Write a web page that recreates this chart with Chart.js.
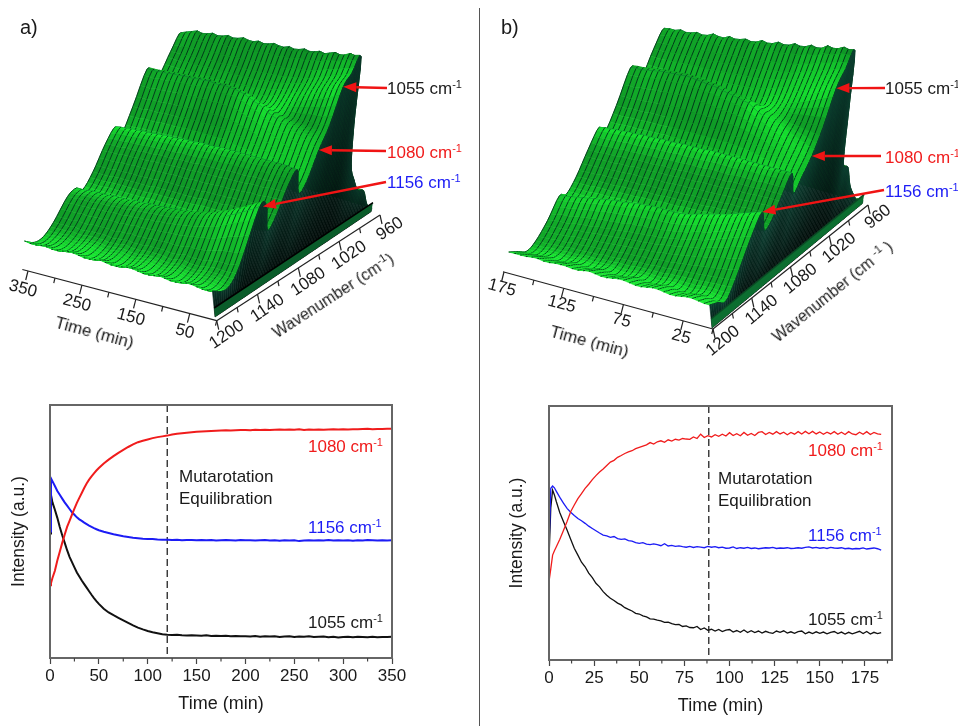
<!DOCTYPE html>
<html lang="en">
<head>
<meta charset="UTF-8" />
<title>Mutarotation</title>
<script src="https://cdn.jsdelivr.net/npm/chart.js"></script>
<style>
    html, body { margin: 0; background: #fff; }
    body { position: relative; width: 958px; height: 726px; overflow: hidden; font-family: "Liberation Sans", Arial, sans-serif; color: #1a1a1a; }
    canvas { position: absolute; }
    .t { position: absolute; font-size: 17px; line-height: 20px; white-space: nowrap; transform: translateY(-50%); }
    .t sup { font-size: 11px; line-height: 0; vertical-align: 6px; }
    #divider { position: absolute; left: 479px; top: 8px; width: 1px; height: 718px; background: #555; }
</style>
</head>
<body>
<canvas id="surfA" width="479" height="392" style="left:0;top:0"></canvas>
<canvas id="surfB" width="478" height="392" style="left:480px;top:0"></canvas>
<canvas id="lineA" width="479" height="331" style="left:0;top:395px"></canvas>
<canvas id="lineB" width="478" height="331" style="left:480px;top:395px"></canvas>
<div id="divider"></div>

<script>
// ---- kinetic traces, normalised intensity 0-100 ----
const timeA = [0,1,2.5,5,7.5,10,12.5,15,17.5,20,22.5,25,27.5,30,32.5,35,37.5,40,42.5,45,47.5,50,55,60,65,70,75,80,85,90,95,100,105,110,115,120,125,130,135,140,145,150,155,160,165,170,175,180,185,190,195,200,205,210,215,220,225,230,235,240,245,250,255,260,265,270,275,280,285,290,295,300,305,310,315,320,325,330,335,340,345,350];
const red1080A = [28.8,29.6,31.6,34.5,38.5,42,45.5,48.7,51.8,54.2,56.7,59,61.3,63.3,65.2,67.2,69,70.5,71.8,73,74.1,75.1,76.9,78.4,79.8,81.1,82.3,83.4,84.4,85.3,85.9,86.4,86.9,87.3,87.6,87.9,88.3,88.6,88.8,89,89.2,89.4,89.5,89.6,89.7,89.8,89.9,90,89.9,90,90.1,90.1,90,90.2,90.1,90.2,90.1,90.2,90.3,90.2,90.3,90.2,90.4,90.1,90.3,90.2,90.3,90.2,90.3,90.4,90.3,90.4,90.3,90.4,90.4,90.5,90.6,90.4,90.5,90.5,90.6,90.6];
const blue1156A = [50,71,69.9,68,66,64.5,63,61.5,60.2,58.9,57.6,56.6,55.6,54.8,54.2,53.5,52.9,52.3,51.8,51.3,50.9,50.5,49.9,49.4,48.9,48.5,48.1,47.8,47.5,47.3,47.1,47,47,46.8,46.7,46.7,46.6,46.7,46.5,46.6,46.6,46.5,46.6,46.5,46.6,46.4,46.5,46.6,46.5,46.4,46.6,46.5,46.5,46.4,46.5,46.6,46.4,46.5,46.3,46.5,46.4,46.5,46.2,46.4,46.5,46.4,46.5,46.4,46.6,46.4,46.5,46.4,46.5,46.3,46.5,46.4,46.6,46.5,46.4,46.5,46.4,46.5];
const black1055A = [49.2,64.4,61.5,58.6,55.4,51.8,48.5,45.6,42.6,40,37.9,35.8,33.8,32.2,30.6,29.2,27.8,26.4,25,23.7,22.5,21.4,19.5,18,16.9,15.9,14.9,13.9,12.9,12,11.3,10.7,10.2,9.8,9.4,9.2,9.1,9.2,9,8.9,9,8.9,8.8,9,8.7,8.8,8.7,8.8,8.6,8.7,8.6,8.6,8.5,8.7,8.4,8.6,8.5,8.6,8.3,8.5,8.6,8.3,8.5,8.4,8.6,8.3,8.4,8.5,8.2,8.4,8.1,8.3,8.4,8.2,8.4,8.3,8.2,8.4,8.2,8.3,8.3,8.4];

const timeB = [0,1,2,3,4,6,8,10,12,14,16,18,20,22,24,26,28,30,32,34,36,38,40,42,44,46,48,50,52,54,56,58,60,62,64,66,68,70,72,74,76,78,80,82,84,86,88,90,92,94,96,98,100,102,104,106,108,110,112,114,116,118,120,122,124,126,128,130,132,134,136,138,140,142,144,146,148,150,152,154,156,158,160,162,164,166,168,170,172,174,176,178,180,182,184];
const red1080B = [30.8,36,41.3,43,44.5,47.5,51,54.5,58.4,61,63.5,65.5,67.6,69.2,71,72.6,74,75.2,76.6,77.9,78.6,79.8,80.5,81.3,81.9,82.4,83.2,83.7,84.2,84.7,85.6,85,85.9,86.3,85.7,86.7,86.2,86.9,86.6,87.2,87,86.9,87.8,87.2,88.9,87.6,88.3,87.8,88.7,88.1,88.9,88.2,89.5,88.4,89.1,88.3,89.6,88.5,89.2,88.4,89.6,89.9,88.8,89.6,88.9,89.9,89,89.7,88.7,89.6,88.9,89.9,89,90,89.1,90,89,89.8,88.9,89.7,89,89.9,88.9,89.7,88.8,89.9,89,88.7,89.7,88.9,89.9,88.8,89.6,89,88.8];
const blue1156B = [44.6,67.6,68.5,67.8,66.5,64,61.8,59.7,58.2,56.9,55.7,54.8,53.8,52.7,51.8,50.9,50,49.2,48.9,48.3,48.6,47.8,47.5,47.7,47,46.8,46.2,45.9,46.2,45.6,45.4,45.7,45.4,45,45.8,44.9,45.1,44.7,44.9,44.6,44.4,44.7,44.3,44.6,44.4,44.2,44.7,44.4,44.6,44.2,44.4,44,44.1,44.5,43.9,44.2,44,44.3,43.9,44.1,43.8,44,44.2,44.1,44.3,43.9,44.1,44,44.2,43.9,44,44.2,44,44.3,44.5,44.1,44.3,44,44.2,43.9,44.3,44.1,44,44.2,43.8,44,43.7,43.9,43.8,44.1,43.7,43.9,44.1,43.8,43.3];
const black1055B = [40,60,66.9,65,62.5,58,54.5,51.2,47.5,44,41.3,38.5,36.7,34.2,32.4,30.2,28.8,26.9,25.5,24.3,23.4,22.4,21.7,20.6,19.9,19.3,18.4,18.1,17.4,17,16.2,16.1,15.7,15.4,14.8,14.9,14.3,13.9,14,13.2,13.4,12.8,12.7,13.2,12,12.6,11.7,12.1,11.4,12,11.2,11.8,12,11,11.6,10.9,11.8,10.8,11.5,10.8,11.4,10.6,11.3,10.8,10.5,11.4,10.9,11.5,10.6,11.1,10.5,11.2,11.4,10.3,11,10.4,11.1,10.5,11,10.3,10.9,11.2,10.4,11,10.2,10.9,10.3,10.8,11.3,10.4,11.2,10.2,10.9,10.4,10.8];

const equilibrationA = 120;
const equilibrationB = 88.5;

// ---- 3D surfaces: one row per wavenumber, one value per time slice ----
const wavenumbers = [1200,1190,1180,1170,1160,1150,1140,1130,1120,1110,1100,1090,1080,1070,1060,1050,1040,1030,1020,1010,1000,990,980,970];
const slicesA = [0,10,20,30,40,50,60,70,80,90,100,110,120,130,140,150,160,170,180,190,200,210,220,230,240,250,260,270,280,290,300,310,320,330,340,350];
const slicesB = [0,5,10,15,20,25,30,35,40,45,50,55,60,65,70,75,80,85,90,95,100,105,110,115,120,125,130,135,140,145,150,155,160,165,170,175];

const surfaceA = [
    [26,25,25,26,27,27,26,25,25,26,27,26,25,25,26,27,27,26,25,25,26,27,26,25,25,26,27,27,26,25,25,26,26,25,25,26],
    [21,20,20,21,22,22,21,20,20,21,22,21,20,20,21,22,22,21,20,20,21,22,21,20,20,21,22,22,21,20,20,21,21,20,20,20],
    [22,22,23,24,24,24,23,22,22,23,24,23,22,22,23,24,24,23,22,22,23,24,23,22,22,23,24,24,23,22,22,23,22,22,21,21],
    [38,37,36,36,36,35,34,33,33,33,34,33,32,32,33,33,33,33,32,32,32,33,32,32,31,32,32,32,32,31,31,32,31,31,31,31],
    [92,88,85,82,79,76,73,71,69,67,65,64,63,62,61,60,59,59,58,58,57,57,56,56,55,55,55,54,54,54,53,53,53,53,52,52],
    [88,86,83,81,78,76,74,72,70,68,67,66,65,64,63,62,62,61,61,60,60,60,59,59,59,58,58,58,58,57,57,57,57,56,56,56],
    [59,58,57,56,55,54,53,53,52,52,52,51,51,51,51,50,50,50,50,50,50,50,50,50,50,50,50,50,50,50,50,50,50,50,50,50],
    [70,70,69,69,68,68,68,67,67,67,66,66,66,66,66,65,65,65,65,65,65,65,65,65,64,64,64,64,64,64,64,64,63,63,63,63],
    [95,95,95,95,94,94,94,94,93,93,93,93,93,92,92,92,92,92,91,91,91,91,90,90,90,90,89,89,89,88,88,88,87,87,87,86],
    [106,106,107,107,107,107,107,107,107,107,107,107,107,107,107,107,106,106,106,106,105,105,105,104,104,104,103,103,102,102,102,101,101,100,100,99],
    [78,79,80,81,82,83,84,84,85,85,85,86,86,86,86,86,86,86,86,86,86,86,86,86,86,86,86,86,85,85,85,85,85,84,84,84],
    [85,87,89,91,93,95,97,99,101,103,105,106,108,109,110,111,112,113,113,113,113,113,113,113,113,113,112,112,112,112,111,111,111,110,110,110],
    [112,114,116,118,120,122,124,126,128,130,132,134,137,139,141,143,145,146,147,147,148,147,147,148,147,147,146,146,146,145,145,144,144,143,143,143],
    [132,131,130,130,130,130,130,130,130,130,131,131,132,132,133,133,134,134,135,135,136,135,135,136,135,135,135,134,134,134,134,133,133,133,132,132],
    [166,163,160,157,155,152,150,147,145,143,140,138,136,134,132,131,130,129,128,128,128,128,128,128,128,128,128,128,128,128,128,128,128,128,128,128],
    [175,172,170,168,166,164,162,160,158,157,156,155,154,153,153,152,152,151,151,151,150,150,150,150,149,149,149,149,148,148,148,148,147,147,147,147],
    [187,186,187,184,183,184,182,180,181,179,178,179,177,176,177,175,175,176,174,173,174,172,172,173,171,170,171,169,168,169,167,166,167,165,163,161],
    [120,120,121,121,122,122,122,123,123,123,124,124,124,124,125,125,125,125,125,125,125,125,125,125,125,125,125,125,125,125,125,124,124,124,124,124],
    [70,70,70,71,71,71,71,72,72,72,72,72,72,72,72,72,72,72,72,72,72,72,72,72,72,72,72,72,72,72,72,72,72,72,72,72],
    [50,50,50,50,50,50,50,50,50,50,50,50,50,50,50,50,50,50,50,50,50,50,50,50,50,50,50,50,50,50,50,50,50,50,50,50],
    [35,35,35,35,35,35,35,35,35,35,35,35,35,35,35,35,35,35,35,35,35,35,35,35,35,35,35,35,35,35,35,35,35,35,35,35],
    [30,30,30,30,30,30,30,30,30,30,30,30,30,30,30,30,30,30,30,30,30,30,30,30,30,30,30,30,30,30,30,30,30,30,30,30],
    [12,12,12,12,12,12,12,12,12,12,12,12,12,12,12,12,12,12,12,12,12,12,12,12,12,12,12,12,12,12,12,12,12,12,12,12],
    [4,4,4,4,4,4,4,4,4,4,4,4,4,4,4,4,4,4,4,4,4,4,4,4,4,4,4,4,4,4,4,4,4,4,4,4]
];

const surfaceB = [
    [23,23,24,25,25,24,23,23,24,25,25,24,23,23,24,25,25,24,23,23,24,25,24,23,23,24,24,24,23,23,24,24,23,23,23,23],
    [20,20,21,22,22,21,20,20,21,22,22,21,20,20,21,22,21,20,19,19,20,21,20,19,19,20,20,19,18,18,19,19,18,18,18,18],
    [16,16,17,18,18,17,16,16,17,18,18,17,16,16,17,18,17,16,15,15,16,17,16,15,15,16,16,15,14,14,15,15,14,13,13,13],
    [32,31,30,30,29,29,28,28,27,27,26,26,25,25,25,24,24,24,23,23,23,22,22,22,21,21,21,20,20,20,19,19,19,18,18,18],
    [70,68,66,64,62,60,58,56,54,53,52,50,49,48,47,46,45,45,44,44,43,43,42,41,41,40,40,39,38,38,37,36,35,35,34,33],
    [89,87,85,83,81,79,77,76,74,73,71,70,68,67,66,66,66,66,66,66,65,65,64,63,62,62,61,60,59,58,57,56,55,54,53,52],
    [65,64,63,62,61,60,59,58,57,56,55,55,54,54,53,53,53,52,52,52,51,51,51,50,50,50,50,49,49,49,49,48,48,48,48,48],
    [70,70,70,69,69,69,68,68,68,67,67,67,66,66,66,66,65,65,65,65,64,64,64,64,63,63,63,63,62,62,62,62,61,61,61,60],
    [90,90,90,90,90,89,89,89,89,89,88,88,88,88,88,87,87,87,87,86,86,86,86,85,85,85,85,84,84,84,83,83,83,82,82,82],
    [106,106,106,106,106,106,106,106,106,106,106,106,106,106,106,106,105,105,105,105,105,104,104,104,104,103,103,103,102,102,102,101,101,100,100,99],
    [80,81,82,84,85,86,87,88,88,89,89,90,90,90,90,90,90,90,90,90,90,90,90,90,90,90,90,90,89,89,89,89,89,89,88,88],
    [93,95,97,99,101,103,105,106,108,109,110,111,112,112,113,113,113,113,113,113,113,113,113,113,113,113,112,112,112,112,111,111,111,110,110,110],
    [107,109,112,114,117,119,122,125,127,130,132,134,137,140,141,142,143,144,145,146,147,147,148,148,149,149,148,148,147,147,146,145,144,143,143,142],
    [130,130,130,130,130,130,130,131,131,132,132,133,134,135,135,136,136,136,137,137,137,137,137,137,137,137,137,137,136,136,136,135,135,135,134,134],
    [164,161,158,155,152,149,146,144,141,139,136,134,131,129,128,127,126,125,125,124,124,124,123,123,123,123,122,122,122,122,122,122,122,122,122,122],
    [178,176,174,172,170,168,166,164,162,160,159,158,157,156,155,154,153,153,152,152,151,151,150,150,149,149,149,148,148,147,147,146,146,145,145,145],
    [191,190,191,188,187,188,184,183,184,181,180,181,178,177,178,175,174,175,172,171,172,170,169,170,167,167,168,165,164,165,163,162,163,161,161,160],
    [130,130,130,130,130,130,130,130,130,130,130,130,130,130,130,130,130,130,129,129,129,129,129,129,129,129,129,129,129,129,128,128,128,128,128,128],
    [68,68,68,68,68,68,68,68,68,68,68,68,68,68,68,68,68,68,68,68,68,68,68,68,68,68,68,68,68,68,68,68,68,68,68,68],
    [58,58,58,58,58,58,58,58,58,58,58,58,58,58,58,58,58,58,58,58,58,58,58,58,58,58,58,58,58,58,58,58,58,58,58,58],
    [35,35,35,35,35,35,35,35,35,35,35,35,35,35,35,35,35,35,35,35,35,35,35,35,35,35,35,35,35,35,35,35,35,35,35,35],
    [20,20,20,20,20,20,20,20,20,20,20,20,20,20,20,20,20,20,20,20,20,20,20,20,20,20,20,20,20,20,20,20,20,20,20,20],
    [8,8,8,8,8,8,8,8,8,8,8,8,8,8,8,8,8,8,8,8,8,8,8,8,8,8,8,8,8,8,8,8,8,8,8,8],
    [3,3,3,3,3,3,3,3,3,3,3,3,3,3,3,3,3,3,3,3,3,3,3,3,3,3,3,3,3,3,3,3,3,3,3,3]
];

// tick labels
const timeTicksA = [350,250,150,50];
const timeMinorA = [300,200,100,0];
const timeTicksB = [175,125,75,25];
const timeMinorB = [150,100,50,0];
const waveTicks = [1200,1140,1080,1020,960];
const waveMinor = [1170,1110,1050,990];
const arrowTipsA = [1060,1080,1156];
const arrowTipsB = [1060,1080,1150];

const FONT = '"Liberation Sans", Arial, sans-serif';
const SUB = 4; // sub-steps between two wavenumbers when the surface is painted

// ---- layout of each panel, page pixels ----
const panelA = {
    xMin: 0, xMax: 479, tMax: 350,
    ox: 215, oy: 317, wx: 163, wy: 110, tx: -188, txf: 20, ty: -50,
    axisO: [216.7, 320.7], axisT: [-188.7, -49.7], axisW: [163.3, -105.7],
    axisTEnd: 1.03, timeRot: 15, waveRot: -34,
    timeMajor: timeTicksA, timeMinor: timeMinorA,
    timeLabelOff: [-5, 18], waveLabelOff: [10, 14],
    tips: arrowTipsA, arrowTails: [[387, 88], [386, 151], [386, 182]],
    bandColor: '#0a5c2a', bandLine: '#000', wallTop: [9, 52, 40]
};
const panelB = {
    xMin: 480, xMax: 958, tMax: 175,
    ox: 712, oy: 328, wx: 157, wy: 130, tx: -201, txf: 25, ty: -53,
    axisO: [713, 329], axisT: [-209, -57], axisW: [155, -124],
    axisTEnd: 1.005, timeRot: 15, waveRot: -39,
    timeMajor: timeTicksB, timeMinor: timeMinorB,
    timeLabelOff: [-2, 16], waveLabelOff: [10, 12],
    tips: arrowTipsB, arrowTails: [[885, 88], [881, 156], [884, 190]],
    bandColor: '#0c6e30', bandLine: '#0a4a24', wallTop: [11, 62, 48]
};

function project(p, f, s, h) {
    const tilt = Math.min(0.2, -0.1 + 1.75 * f);
    return {
        x: p.ox + p.wx * f + tilt * h + s * (p.tx + p.txf * f),
        y: p.oy - p.wy * f - h + s * p.ty
    };
}
const fracOf = w => (1200 - w) / 240;

function quad(ctx, a, b, c, d) {
    ctx.beginPath();
    ctx.moveTo(a.x, a.y);
    ctx.lineTo(b.x, b.y);
    ctx.lineTo(c.x, c.y);
    ctx.lineTo(d.x, d.y);
    ctx.closePath();
}

// curve through four chart points, same idea as a line's tension
function curve(a, b, c, d, u) {
    const u2 = u * u, u3 = u2 * u;
    const f = (p0, p1, p2, p3) => 0.5 * (2 * p1 + (p2 - p0) * u + (2 * p0 - 5 * p1 + 4 * p2 - p3) * u2 + (3 * p1 - p0 - 3 * p2 + p3) * u3);
    return { x: f(a.x, b.x, c.x, d.x), y: f(a.y, b.y, c.y, d.y) };
}

// brightness of the green at a grid vertex, from the local slopes
function vertexGreen(grid, i, j) {
    const nw = grid.length, ns = grid[0].length;
    const up = grid[Math.min(nw - 1, j + 1)][i], dn = grid[Math.max(0, j - 1)][i];
    const df = (up - dn) / 2;
    const dt = Math.abs(grid[j][Math.min(ns - 1, i + 1)] - grid[j][Math.max(0, i - 1)]) / 2;
    let g = 150 + 75 * Math.exp(-df * df / 70) + 26 * dt;
    if (df < -3) g -= Math.min(45, -df * 2);
    return Math.max(100, Math.min(235, g));
}
const greenCss = g => `rgb(${Math.round(g * 0.1)},${Math.round(g)},${Math.round(18 + g * 0.13)})`;

function surfacePlugin(p, slices, grid) {
    return {
        id: 'surface',
        beforeDatasetsDraw(chart) {
            const ctx = chart.ctx;
            const sx = chart.scales.x, sy = chart.scales.y;
            const ns = slices.length, nw = wavenumbers.length;
            const px = (i, j) => chart.getDatasetMeta(i).data[Math.max(0, Math.min(nw - 1, j))];
            const along = (i, j, u) => curve(px(i, j - 1), px(i, j), px(i, j + 1), px(i, j + 2), u);
            const floorPx = (f, h) => {
                const q = project(p, f, 0, h);
                return { x: sx.getPixelForValue(q.x), y: sy.getPixelForValue(q.y) };
            };
            ctx.save();
            ctx.lineJoin = 'round';
            for (let j = nw - 2; j >= 0; j--) {
                const f0 = fracOf(wavenumbers[j]), f1 = fracOf(wavenumbers[j + 1]);
                for (let k = SUB - 1; k >= 0; k--) {
                    const u0 = k / SUB, u1 = (k + 1) / SUB, um = (u0 + u1) / 2;
                    for (let i = ns - 2; i >= 0; i--) {
                        const ga = vertexGreen(grid, i, j) * (1 - um) + vertexGreen(grid, i, j + 1) * um;
                        const gb = vertexGreen(grid, i + 1, j) * (1 - um) + vertexGreen(grid, i + 1, j + 1) * um;
                        const col = greenCss((ga + gb) / 2);
                        ctx.fillStyle = col;
                        ctx.strokeStyle = col;
                        ctx.lineWidth = 0.6;
                        quad(ctx, along(i, j, u0), along(i, j, u1), along(i + 1, j, u1), along(i + 1, j, u0));
                        ctx.fill();
                        ctx.stroke();
                    }
                    // slice lines, one per time
                    ctx.strokeStyle = 'rgba(0,48,24,0.9)';
                    ctx.lineWidth = 1;
                    for (let i = 0; i < ns; i++) {
                        const a = along(i, j, u0), b = along(i, j, u1);
                        ctx.beginPath();
                        ctx.moveTo(a.x, a.y);
                        ctx.lineTo(b.x, b.y);
                        ctx.stroke();
                    }
                    // end wall at time zero
                    const top0 = along(0, j, u0), top1 = along(0, j, u1);
                    const bot0 = floorPx(f0 + (f1 - f0) * u0, 0), bot1 = floorPx(f0 + (f1 - f0) * u1, 0);
                    const gr = ctx.createLinearGradient(0, Math.min(top0.y, top1.y), 0, Math.max(bot0.y, bot1.y));
                    const c = p.wallTop;
                    gr.addColorStop(0, `rgb(${c[0]},${c[1]},${c[2]})`);
                    gr.addColorStop(0.65, `rgb(${c[0] >> 1},${c[1] >> 1},${c[2] >> 1})`);
                    gr.addColorStop(1, 'rgb(0,8,6)');
                    ctx.fillStyle = gr;
                    ctx.strokeStyle = gr;
                    ctx.lineWidth = 0.6;
                    quad(ctx, top0, top1, bot1, bot0);
                    ctx.fill();
                    ctx.stroke();
                }
                // dark edge along a crest, nearer strips paint over what is hidden
                ctx.strokeStyle = 'rgba(8,70,70,0.75)';
                ctx.lineWidth = 1;
                for (let i = 0; i < ns - 1; i++) {
                    const h = grid[j][i];
                    if (j > 0 && h >= grid[j - 1][i] && h >= grid[j + 1][i]) {
                        const a = px(i, j), b = px(i + 1, j);
                        ctx.beginPath();
                        ctx.moveTo(a.x, a.y);
                        ctx.lineTo(b.x, b.y);
                        ctx.stroke();
                    }
                }
            }
            // base plate along the time-zero edge
            const fEnd = fracOf(wavenumbers[nw - 1]);
            const b0 = floorPx(0, 0), b1 = floorPx(fEnd, 0), b2 = floorPx(fEnd, 9), b3 = floorPx(0, 9);
            ctx.fillStyle = p.bandColor;
            quad(ctx, b0, b1, b2, b3);
            ctx.fill();
            ctx.strokeStyle = p.bandLine;
            ctx.lineWidth = 1.6;
            ctx.beginPath();
            ctx.moveTo(b3.x, b3.y);
            ctx.lineTo(b2.x, b2.y);
            ctx.stroke();
            ctx.restore();
            drawAxes3d(chart, p);
            drawArrows(chart, p, grid);
            return false;
        }
    };
}

function drawAxes3d(chart, p) {
    const ctx = chart.ctx;
    const sx = chart.scales.x, sy = chart.scales.y;
    const at = (v) => ({ x: sx.getPixelForValue(v[0]), y: sy.getPixelForValue(v[1]) });
    const timePt = t => [p.axisO[0] + p.axisT[0] * t / p.tMax, p.axisO[1] + p.axisT[1] * t / p.tMax];
    const wavePt = w => [p.axisO[0] + p.axisW[0] * fracOf(w), p.axisO[1] + p.axisW[1] * fracOf(w)];
    ctx.save();
    ctx.strokeStyle = '#222';
    ctx.lineWidth = 1.2;
    const line = (a, b) => {
        ctx.beginPath();
        ctx.moveTo(a.x, a.y);
        ctx.lineTo(b.x, b.y);
        ctx.stroke();
    };
    line(at(timePt(p.tMax * p.axisTEnd)), at(p.axisO));
    line(at(p.axisO), at(wavePt(960)));
    p.timeMajor.forEach(t => { const q = timePt(t); line(at(q), at([q[0] - 2.3, q[1] + 9])); });
    p.timeMinor.forEach(t => { const q = timePt(t); line(at(q), at([q[0] - 1.2, q[1] + 5])); });
    waveTicks.forEach(w => { const q = wavePt(w); line(at(q), at([q[0] + 2, q[1] + 9])); });
    waveMinor.forEach(w => { const q = wavePt(w); line(at(q), at([q[0] + 1, q[1] + 5])); });
    ctx.fillStyle = '#1a1a1a';
    ctx.font = '17px ' + FONT;
    ctx.textAlign = 'center';
    ctx.textBaseline = 'middle';
    const rotText = (txt, q, off, deg) => {
        const c = at([q[0] + off[0], q[1] + off[1]]);
        ctx.save();
        ctx.translate(c.x, c.y);
        ctx.rotate(deg * Math.PI / 180);
        ctx.fillText(String(txt), 0, 0);
        ctx.restore();
    };
    p.timeMajor.forEach(t => rotText(t, timePt(t), p.timeLabelOff, p.timeRot));
    waveTicks.forEach(w => rotText(w, wavePt(w), p.waveLabelOff, p.waveRot));
    ctx.restore();
}

function drawArrows(chart, p, grid) {
    const ctx = chart.ctx;
    const sx = chart.scales.x, sy = chart.scales.y;
    ctx.save();
    ctx.strokeStyle = '#f01414';
    ctx.fillStyle = '#f01414';
    ctx.lineWidth = 2.4;
    p.tips.forEach((w, k) => {
        // arrow tip sits on the crest at time zero
        const idx = Math.max(1, wavenumbers.findIndex(v => v <= w));
        const a = wavenumbers[idx - 1], b = wavenumbers[idx];
        const h = grid[idx - 1][0] + (grid[idx][0] - grid[idx - 1][0]) * (a - w) / (a - b);
        const tip = project(p, fracOf(w), 0, h);
        const tx = sx.getPixelForValue(tip.x), ty = sy.getPixelForValue(tip.y);
        const ax = sx.getPixelForValue(p.arrowTails[k][0]), ay = sy.getPixelForValue(p.arrowTails[k][1]);
        const ang = Math.atan2(ty - ay, tx - ax);
        const len = 13, wid = 5;
        const bx = tx - Math.cos(ang) * len, by = ty - Math.sin(ang) * len;
        ctx.beginPath();
        ctx.moveTo(ax, ay);
        ctx.lineTo(bx, by);
        ctx.stroke();
        ctx.beginPath();
        ctx.moveTo(tx, ty);
        ctx.lineTo(bx - Math.sin(ang) * wid, by + Math.cos(ang) * wid);
        ctx.lineTo(bx + Math.sin(ang) * wid, by - Math.cos(ang) * wid);
        ctx.closePath();
        ctx.fill();
    });
    ctx.restore();
}

function makeSurface(id, p, slices, grid) {
    const datasets = slices.map((t, i) => ({
        label: t + ' min',
        data: wavenumbers.map((w, j) => project(p, fracOf(w), t / p.tMax, grid[j][i])),
        borderColor: '#000',
        borderWidth: 1,
        pointRadius: 0
    }));
    return new Chart(document.getElementById(id), {
        type: 'line',
        data: { datasets },
        options: {
            responsive: false,
            animation: false,
            devicePixelRatio: 1,
            layout: { padding: 0 },
            plugins: { legend: { display: false }, tooltip: { enabled: false } },
            scales: {
                x: { type: 'linear', display: false, min: p.xMin, max: p.xMax },
                y: { type: 'linear', display: false, min: 0, max: 392, reverse: true }
            }
        },
        plugins: [surfacePlugin(p, slices, grid)]
    });
}

const framePlugin = {
    id: 'frame',
    afterDraw(chart, args, opts) {
        const { ctx, chartArea: a, scales } = chart;
        ctx.save();
        ctx.strokeStyle = '#666';
        ctx.lineWidth = 2;
        ctx.strokeRect(a.left, a.top, a.right - a.left, a.bottom - a.top);
        ctx.strokeStyle = '#444';
        ctx.lineWidth = 1.2;
        opts.minor.forEach(v => {
            const x = scales.x.getPixelForValue(v);
            ctx.beginPath();
            ctx.moveTo(x, a.bottom);
            ctx.lineTo(x, a.bottom + 3.5);
            ctx.stroke();
        });
        ctx.restore();
    }
};

function makeTraces(id, cfg) {
    const series = (label, color, ys) => ({
        label,
        data: cfg.time.map((t, i) => ({ x: t, y: ys[i] })),
        borderColor: color,
        borderWidth: cfg.lineW,
        pointRadius: 0,
        tension: 0
    });
    return new Chart(document.getElementById(id), {
        type: 'line',
        data: {
            datasets: [
                series('1080 cm-1', '#f01c1c', cfg.red),
                series('1156 cm-1', '#1c1cf5', cfg.blue),
                series('1055 cm-1', '#111', cfg.black),
                {
                    label: 'Mutarotation Equilibration',
                    data: [{ x: cfg.equil, y: 100 }, { x: cfg.equil, y: 1.5 }],
                    borderColor: '#333',
                    borderWidth: 1.4,
                    borderDash: [7, 4],
                    pointRadius: 0
                }
            ]
        },
        options: {
            responsive: false,
            animation: false,
            devicePixelRatio: 1,
            layout: { padding: { top: cfg.padTop, right: cfg.padRight, left: 0, bottom: 0 } },
            plugins: { legend: { display: false }, tooltip: { enabled: false }, frame: { minor: cfg.minor } },
            scales: {
                x: {
                    type: 'linear', min: 0, max: cfg.max,
                    afterFit: s => { s.height = cfg.axisH; },
                    grid: { drawOnChartArea: false, tickLength: 6, tickColor: '#444', tickWidth: 1.2 },
                    border: { display: false },
                    ticks: { stepSize: cfg.step, includeBounds: false, maxRotation: 0, autoSkip: false, padding: 2, color: '#1a1a1a', font: { family: FONT, size: 17 } },
                    title: { display: true, text: 'Time (min)', color: '#1a1a1a', font: { family: FONT, size: 18 }, padding: { top: 0, bottom: cfg.xTitlePad } }
                },
                y: {
                    type: 'linear', min: 0, max: 100,
                    afterFit: s => { s.width = cfg.axisW; },
                    grid: { display: false },
                    border: { display: false },
                    ticks: { display: false },
                    title: { display: true, text: 'Intensity (a.u.)', color: '#1a1a1a', font: { family: FONT, size: 17.5 }, padding: { top: cfg.yTitlePad, bottom: 0 } }
                }
            }
        },
        plugins: [framePlugin]
    });
}

makeSurface('surfA', panelA, slicesA, surfaceA);
makeSurface('surfB', panelB, slicesB, surfaceB);

makeTraces('lineA', {
    time: timeA, red: red1080A, blue: blue1156A, black: black1055A, equil: equilibrationA,
    max: 350, step: 50, minor: [25,75,125,175,225,275,325], lineW: 2,
    padTop: 10, padRight: 87, axisH: 68, axisW: 50, xTitlePad: 11, yTitlePad: 9
});
makeTraces('lineB', {
    time: timeB, red: red1080B, blue: blue1156B, black: black1055B, equil: equilibrationB,
    max: 190, step: 25, minor: [12.5,37.5,62.5,87.5,112.5,137.5,162.5,187.5], lineW: 1.3,
    padTop: 11, padRight: 66, axisH: 66, axisW: 69, xTitlePad: 9, yTitlePad: 27
});

// ---- text ----
function addText(html, left, top, extra) {
    const d = document.createElement('div');
    d.className = 't';
    d.innerHTML = html;
    d.style.left = left + 'px';
    d.style.top = top + 'px';
    if (extra) Object.assign(d.style, extra);
    document.body.appendChild(d);
}
const cm = n => n + ' cm<sup>-1</sup>';
const RED = '#f01c1c', BLUE = '#1c1cf5';

addText('a)', 20, 27, { fontSize: '20px' });
addText('b)', 501, 27, { fontSize: '20px' });

addText(cm(1055), 387, 89);
addText(cm(1080), 387, 153, { color: RED });
addText(cm(1156), 387, 183, { color: BLUE });
addText(cm(1055), 885, 89);
addText(cm(1080), 885, 158, { color: RED });
addText(cm(1156), 885, 192, { color: BLUE });

addText('Time (min)', 54, 333, { transform: 'translateY(-50%) rotate(15deg)' });
addText('Wavenumber (cm<sup>-1</sup>)', 263, 296, { transform: 'translateY(-50%) rotate(-33deg)', fontSize: '16px' });
addText('Time (min)', 549, 342, { transform: 'translateY(-50%) rotate(15deg)' });
addText('Wavenumber (cm <sup>-1</sup> )', 758, 292, { transform: 'translateY(-50%) rotate(-39deg)', fontSize: '16px' });

addText(cm(1080), 308, 447, { color: RED });
addText(cm(1156), 308, 528, { color: BLUE });
addText(cm(1055), 308, 623);
addText('Mutarotation', 179, 477);
addText('Equilibration', 179, 499);

addText(cm(1080), 808, 451, { color: RED });
addText(cm(1156), 808, 536, { color: BLUE });
addText(cm(1055), 808, 620);
addText('Mutarotation', 718, 479);
addText('Equilibration', 718, 501);
</script>
</body>
</html>
